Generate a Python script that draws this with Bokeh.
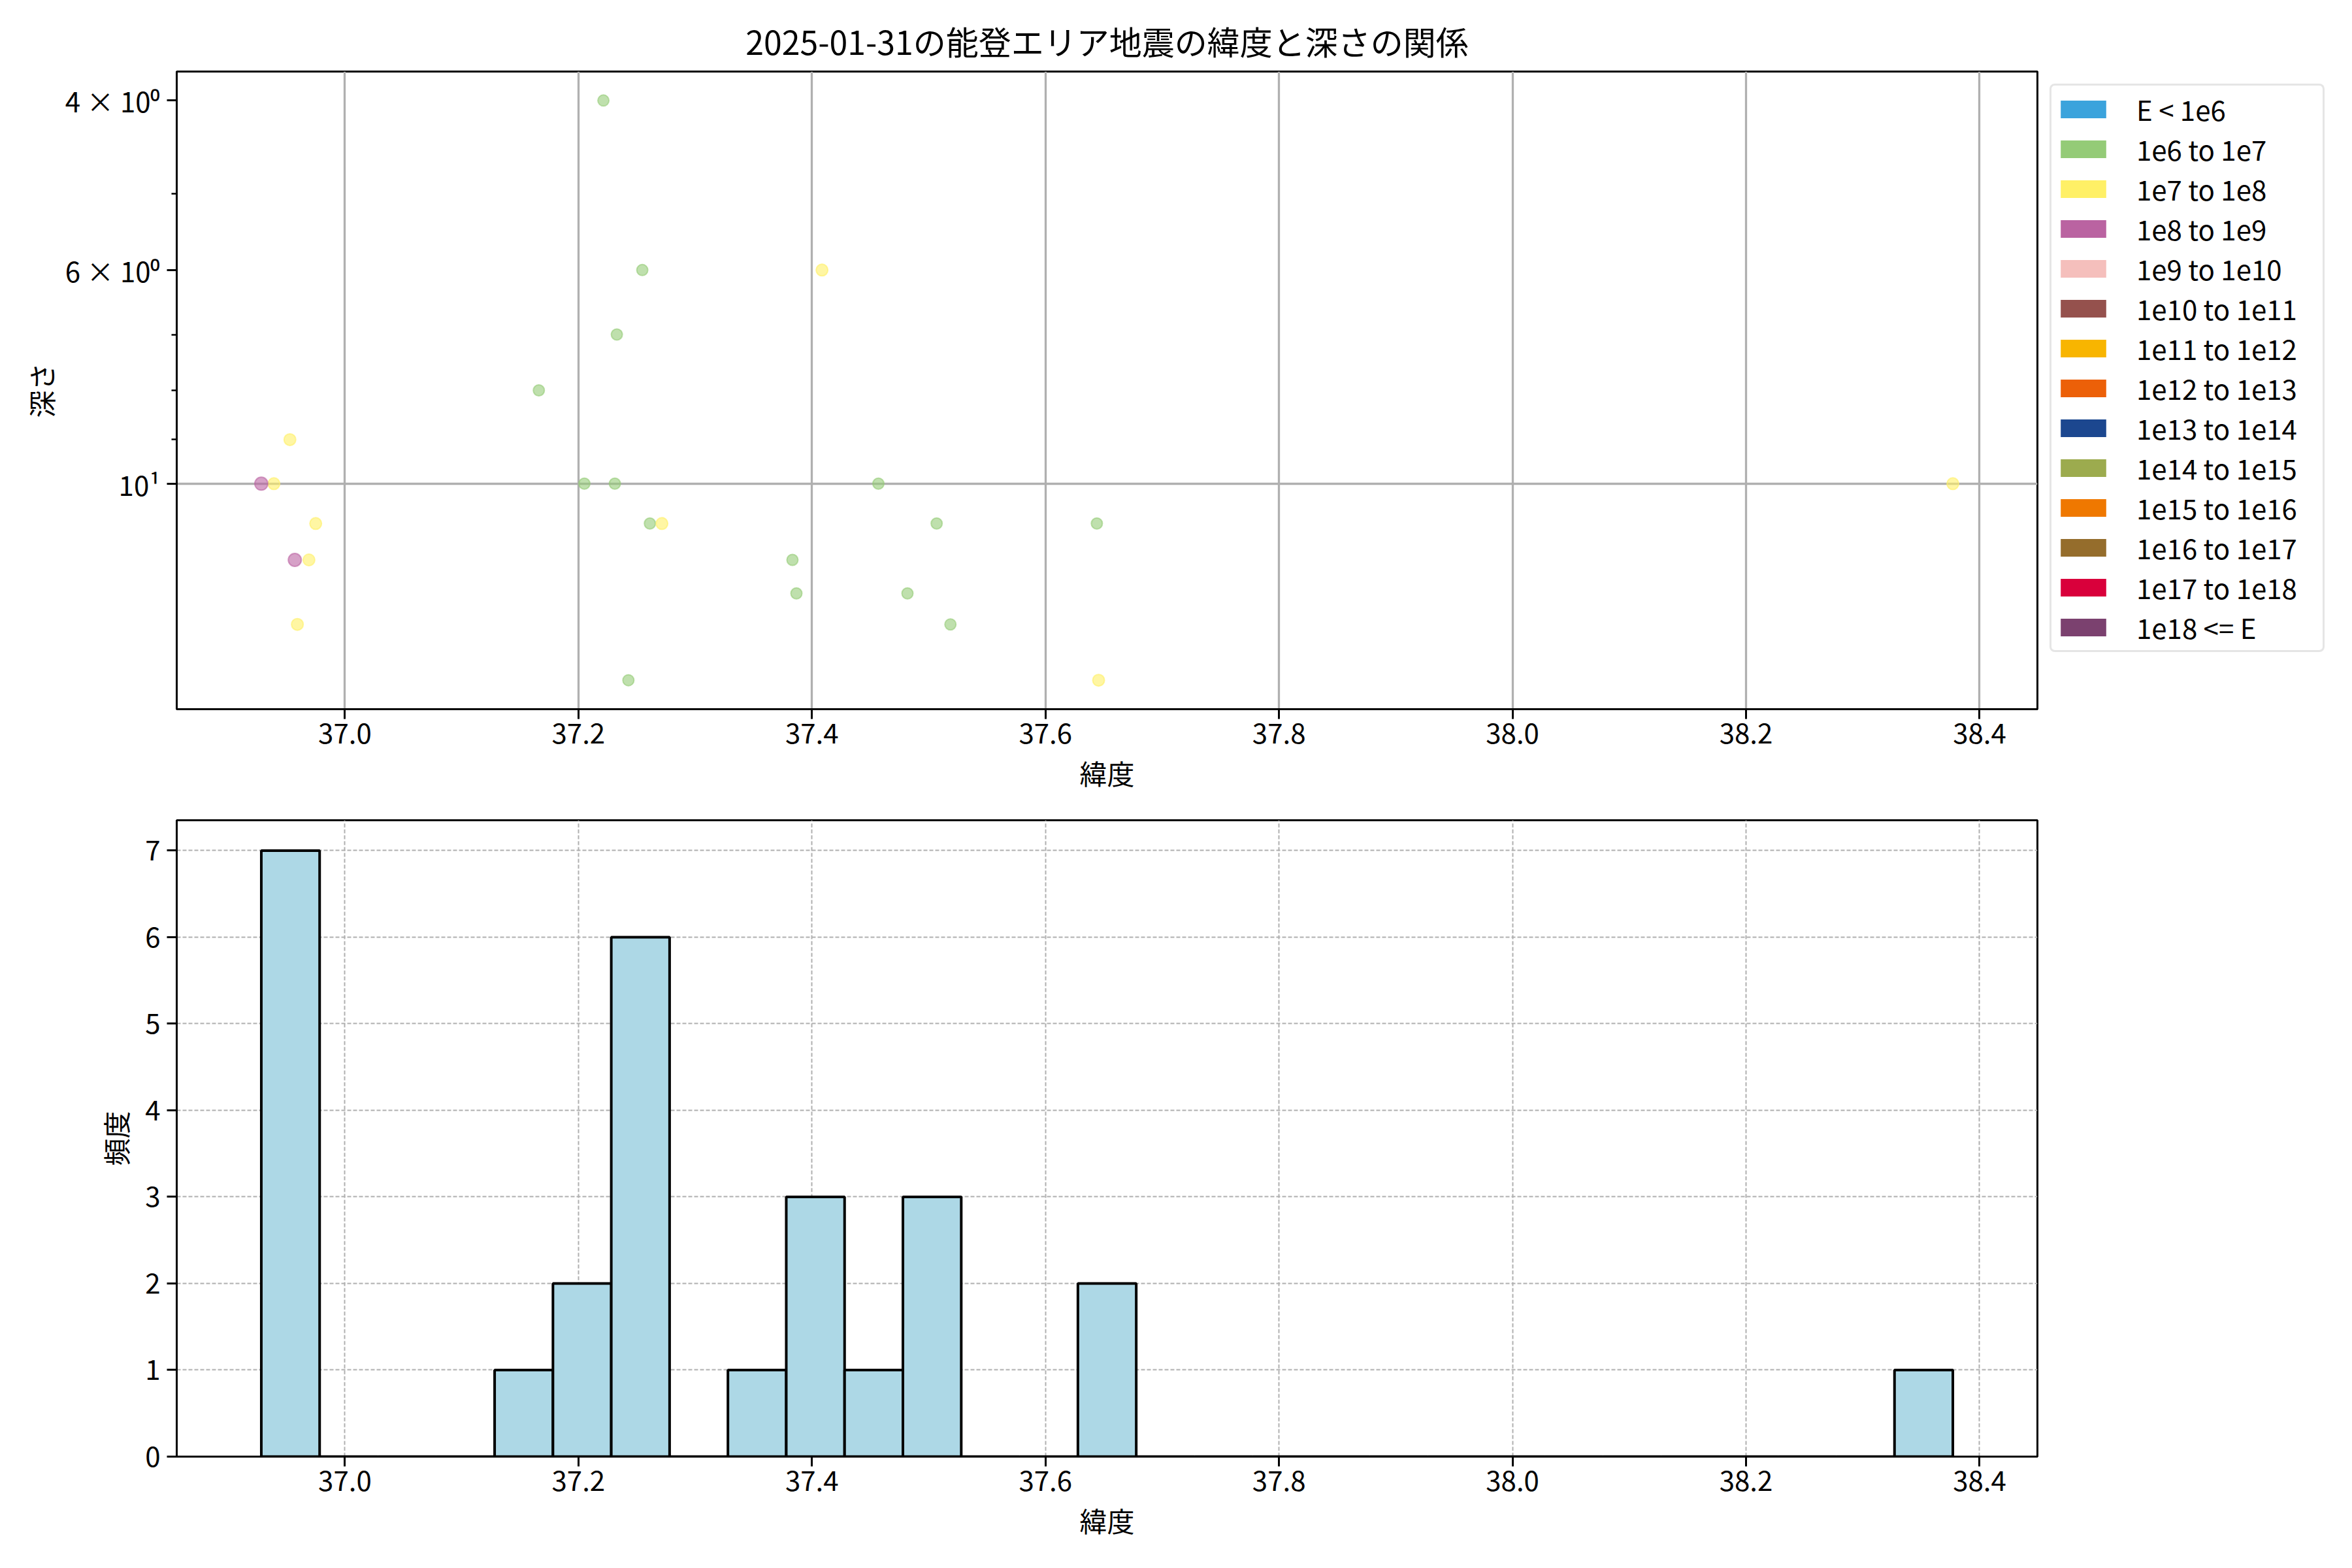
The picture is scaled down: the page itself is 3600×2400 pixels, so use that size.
import numpy as np
from bokeh.plotting import figure
from bokeh.models import (Range1d, FixedTicker, Legend, LegendItem,
                          PrintfTickFormatter)
from bokeh.layouts import column
from bokeh.embed import file_html
from bokeh.resources import INLINE

# ---------------- data ----------------
chart_title = "2025-01-31の能登エリア地震の緯度と深さの関係"
x_label = "緯度"
y_label_top = "深さ"
y_label_hist = "頻度"

energy_labels = ["E < 1e6", "1e6 to 1e7", "1e7 to 1e8", "1e8 to 1e9",
                 "1e9 to 1e10", "1e10 to 1e11", "1e11 to 1e12", "1e12 to 1e13",
                 "1e13 to 1e14", "1e14 to 1e15", "1e15 to 1e16", "1e16 to 1e17",
                 "1e17 to 1e18", "1e18 <= E"]
energy_colors = ["#3ba3dc", "#94cb77", "#fff066", "#ba63a1",
                 "#f5bfbc", "#95514d", "#f8b500", "#ec6008",
                 "#1c478f", "#9cab4e", "#ef7800", "#956d2c",
                 "#d9003b", "#7b416f"]

# one entry per event (latitude [deg], depth [km], energy class index)
latitude = [37.2214, 37.2547, 37.4086, 37.2329, 37.1661, 36.9529, 36.9284,
            36.9392, 37.2051, 37.2312, 37.4569, 36.9750, 37.2612, 37.2715,
            37.5068, 37.6440, 36.9571, 36.9692, 37.3833, 37.3867, 37.4818,
            36.9593, 37.5186, 37.2428, 37.6455, 38.3771, 37.3500]
depth = [4, 6, 6, 7, 8, 9, 10,
         10, 10, 10, 10, 11, 11, 11,
         11, 11, 12, 12, 12, 13, 13,
         14, 14, 16, 16, 10, 0]
energy_class = [1, 1, 2, 1, 1, 2, 3,
                2, 1, 1, 1, 2, 1, 2,
                1, 1, 3, 2, 1, 1, 1,
                2, 1, 1, 2, 2, 1]

x_ticks = [37.0, 37.2, 37.4, 37.6, 37.8, 38.0, 38.2, 38.4]
depth_major_ticks = [4, 6, 10]
depth_minor_ticks = [5, 7, 8, 9]
depth_tick_labels = ["4 × 10⁰", "6 × 10⁰", "10¹"]
hist_y_ticks = [0, 1, 2, 3, 4, 5, 6, 7]
n_bins = 29

# ---------------- styles ----------------
FONT = "Noto Sans CJK JP"
marker_size = {1: 17, 2: 18, 3: 20}
GRID = "#b0b0b0"

lat = np.array(latitude, dtype=float)
dep = np.array(depth, dtype=float)
cls = np.array(energy_class)

# x range: data span with 5% margins (shared by both panels)
xmin, xmax = lat.min(), lat.max()
xpad = 0.05 * (xmax - xmin)
x_start, x_end = xmin - xpad, xmax + xpad

# y range (log, inverted): 5% margins in log space
pos = dep[dep > 0]
lo, hi = np.log10(pos.min()), np.log10(pos.max())
lpad = 0.05 * (hi - lo)
y_top, y_bottom = 10 ** (lo - lpad), 10 ** (hi + lpad)

counts, edges = np.histogram(lat, bins=n_bins)


def style_axes(p):
    p.background_fill_color = "white"
    p.border_fill_color = "white"
    p.outline_line_color = "black"
    p.outline_line_width = 3
    for ax in (p.xaxis[0], p.yaxis[0]):
        ax.axis_line_width = 3
        ax.axis_line_color = "black"
        ax.major_tick_line_width = 3
        ax.major_tick_out = 15
        ax.major_tick_in = 0
        ax.major_label_text_font = FONT
        ax.major_label_text_font_size = "42px"
        ax.major_label_text_color = "black"
        ax.axis_label_text_font = FONT
        ax.axis_label_text_font_size = "42px"
        ax.axis_label_text_font_style = "normal"
        ax.axis_label_text_color = "black"
    p.xaxis[0].major_label_standoff = 6
    p.xaxis[0].axis_label_standoff = 11
    p.yaxis[0].major_label_standoff = 10
    p.yaxis[0].axis_label_standoff = 12
    p.xaxis[0].minor_tick_line_color = None
    p.xaxis[0].ticker = FixedTicker(ticks=x_ticks)
    p.xaxis[0].formatter = PrintfTickFormatter(format="%.1f")
    p.xaxis[0].axis_label = x_label


# ---------------- top: scatter ----------------
p1 = figure(x_range=Range1d(x_start, x_end),
            y_range=Range1d(y_bottom, y_top),
            y_axis_type="log",
            frame_width=2848, frame_height=976,
            min_border_left=270, min_border_top=109, min_border_bottom=140,
            min_border_right=0,
            output_backend="svg", toolbar_location=None)
style_axes(p1)
p1.yaxis[0].ticker = FixedTicker(ticks=depth_major_ticks, minor_ticks=depth_minor_ticks)
p1.yaxis[0].major_label_overrides = {t: l for t, l in zip(depth_major_ticks, depth_tick_labels)}
p1.yaxis[0].minor_tick_out = 8
p1.yaxis[0].minor_tick_in = 0
p1.yaxis[0].minor_tick_line_width = 2.5
p1.yaxis[0].minor_tick_line_color = "black"
p1.yaxis[0].axis_label = y_label_top
p1.yaxis[0].axis_label_standoff = 4

p1.xgrid.grid_line_color = GRID
p1.xgrid.grid_line_width = 3.3
p1.ygrid.grid_line_color = GRID
p1.ygrid.grid_line_width = 3.3
p1.ygrid.ticker = FixedTicker(ticks=[10])

p1.title.text = chart_title
p1.title.align = "center"
p1.title.text_font = FONT
p1.title.text_font_size = "50px"
p1.title.text_font_style = "normal"
p1.title.text_color = "black"
p1.title.standoff = 24

for k in sorted(set(energy_class)):
    m = (cls == k) & (dep > 0)
    if not m.any():
        continue
    c = energy_colors[k]
    p1.scatter(lat[m], dep[m], size=marker_size.get(k, 18),
               fill_color=c, line_color=c, fill_alpha=0.6, line_alpha=0.6,
               line_width=2)

# legend swatches: renderers holding a single NaN (never drawn in the frame)
items = []
nan1 = np.array([np.nan])
for lab, col in zip(energy_labels, energy_colors):
    r = p1.quad(left=nan1, right=nan1, top=nan1, bottom=nan1,
                fill_color=col, line_color=None)
    items.append(LegendItem(label=lab, renderers=[r], index=0))
legend = Legend(items=items, location="top_left")
legend.margin = 19
legend.padding = 5
legend.spacing = 0
legend.glyph_width = 87
legend.glyph_height = 34
legend.label_height = 34
legend.label_width = 280
legend.label_standoff = 38
legend.label_text_font = FONT
legend.label_text_font_size = "42px"
legend.label_text_color = "black"
legend.border_line_color = "#cccccc"
legend.border_line_width = 3
legend.background_fill_color = "white"
try:
    legend.border_radius = 8
except Exception:
    pass
p1.add_layout(legend, "right")

# ---------------- bottom: histogram ----------------
p2 = figure(x_range=Range1d(x_start, x_end),
            y_range=Range1d(0, counts.max() * 1.05),
            frame_width=2848, frame_height=974,
            min_border_left=270, min_border_top=30, min_border_bottom=130,
            min_border_right=10,
            output_backend="svg", toolbar_location=None)
style_axes(p2)
p2.yaxis[0].ticker = FixedTicker(ticks=hist_y_ticks)
p2.yaxis[0].minor_tick_line_color = None
p2.yaxis[0].axis_label = y_label_hist
for g in (p2.xgrid, p2.ygrid):
    g.grid_line_color = GRID
    g.grid_line_width = 2
    g.grid_line_dash = "6 3"
p2.quad(left=edges[:-1], right=edges[1:], bottom=0, top=counts,
        fill_color="lightblue", line_color="black", line_width=4)

layout = column(p1, p2, spacing=0)
open("out.html", "w").write(file_html(layout, INLINE))
